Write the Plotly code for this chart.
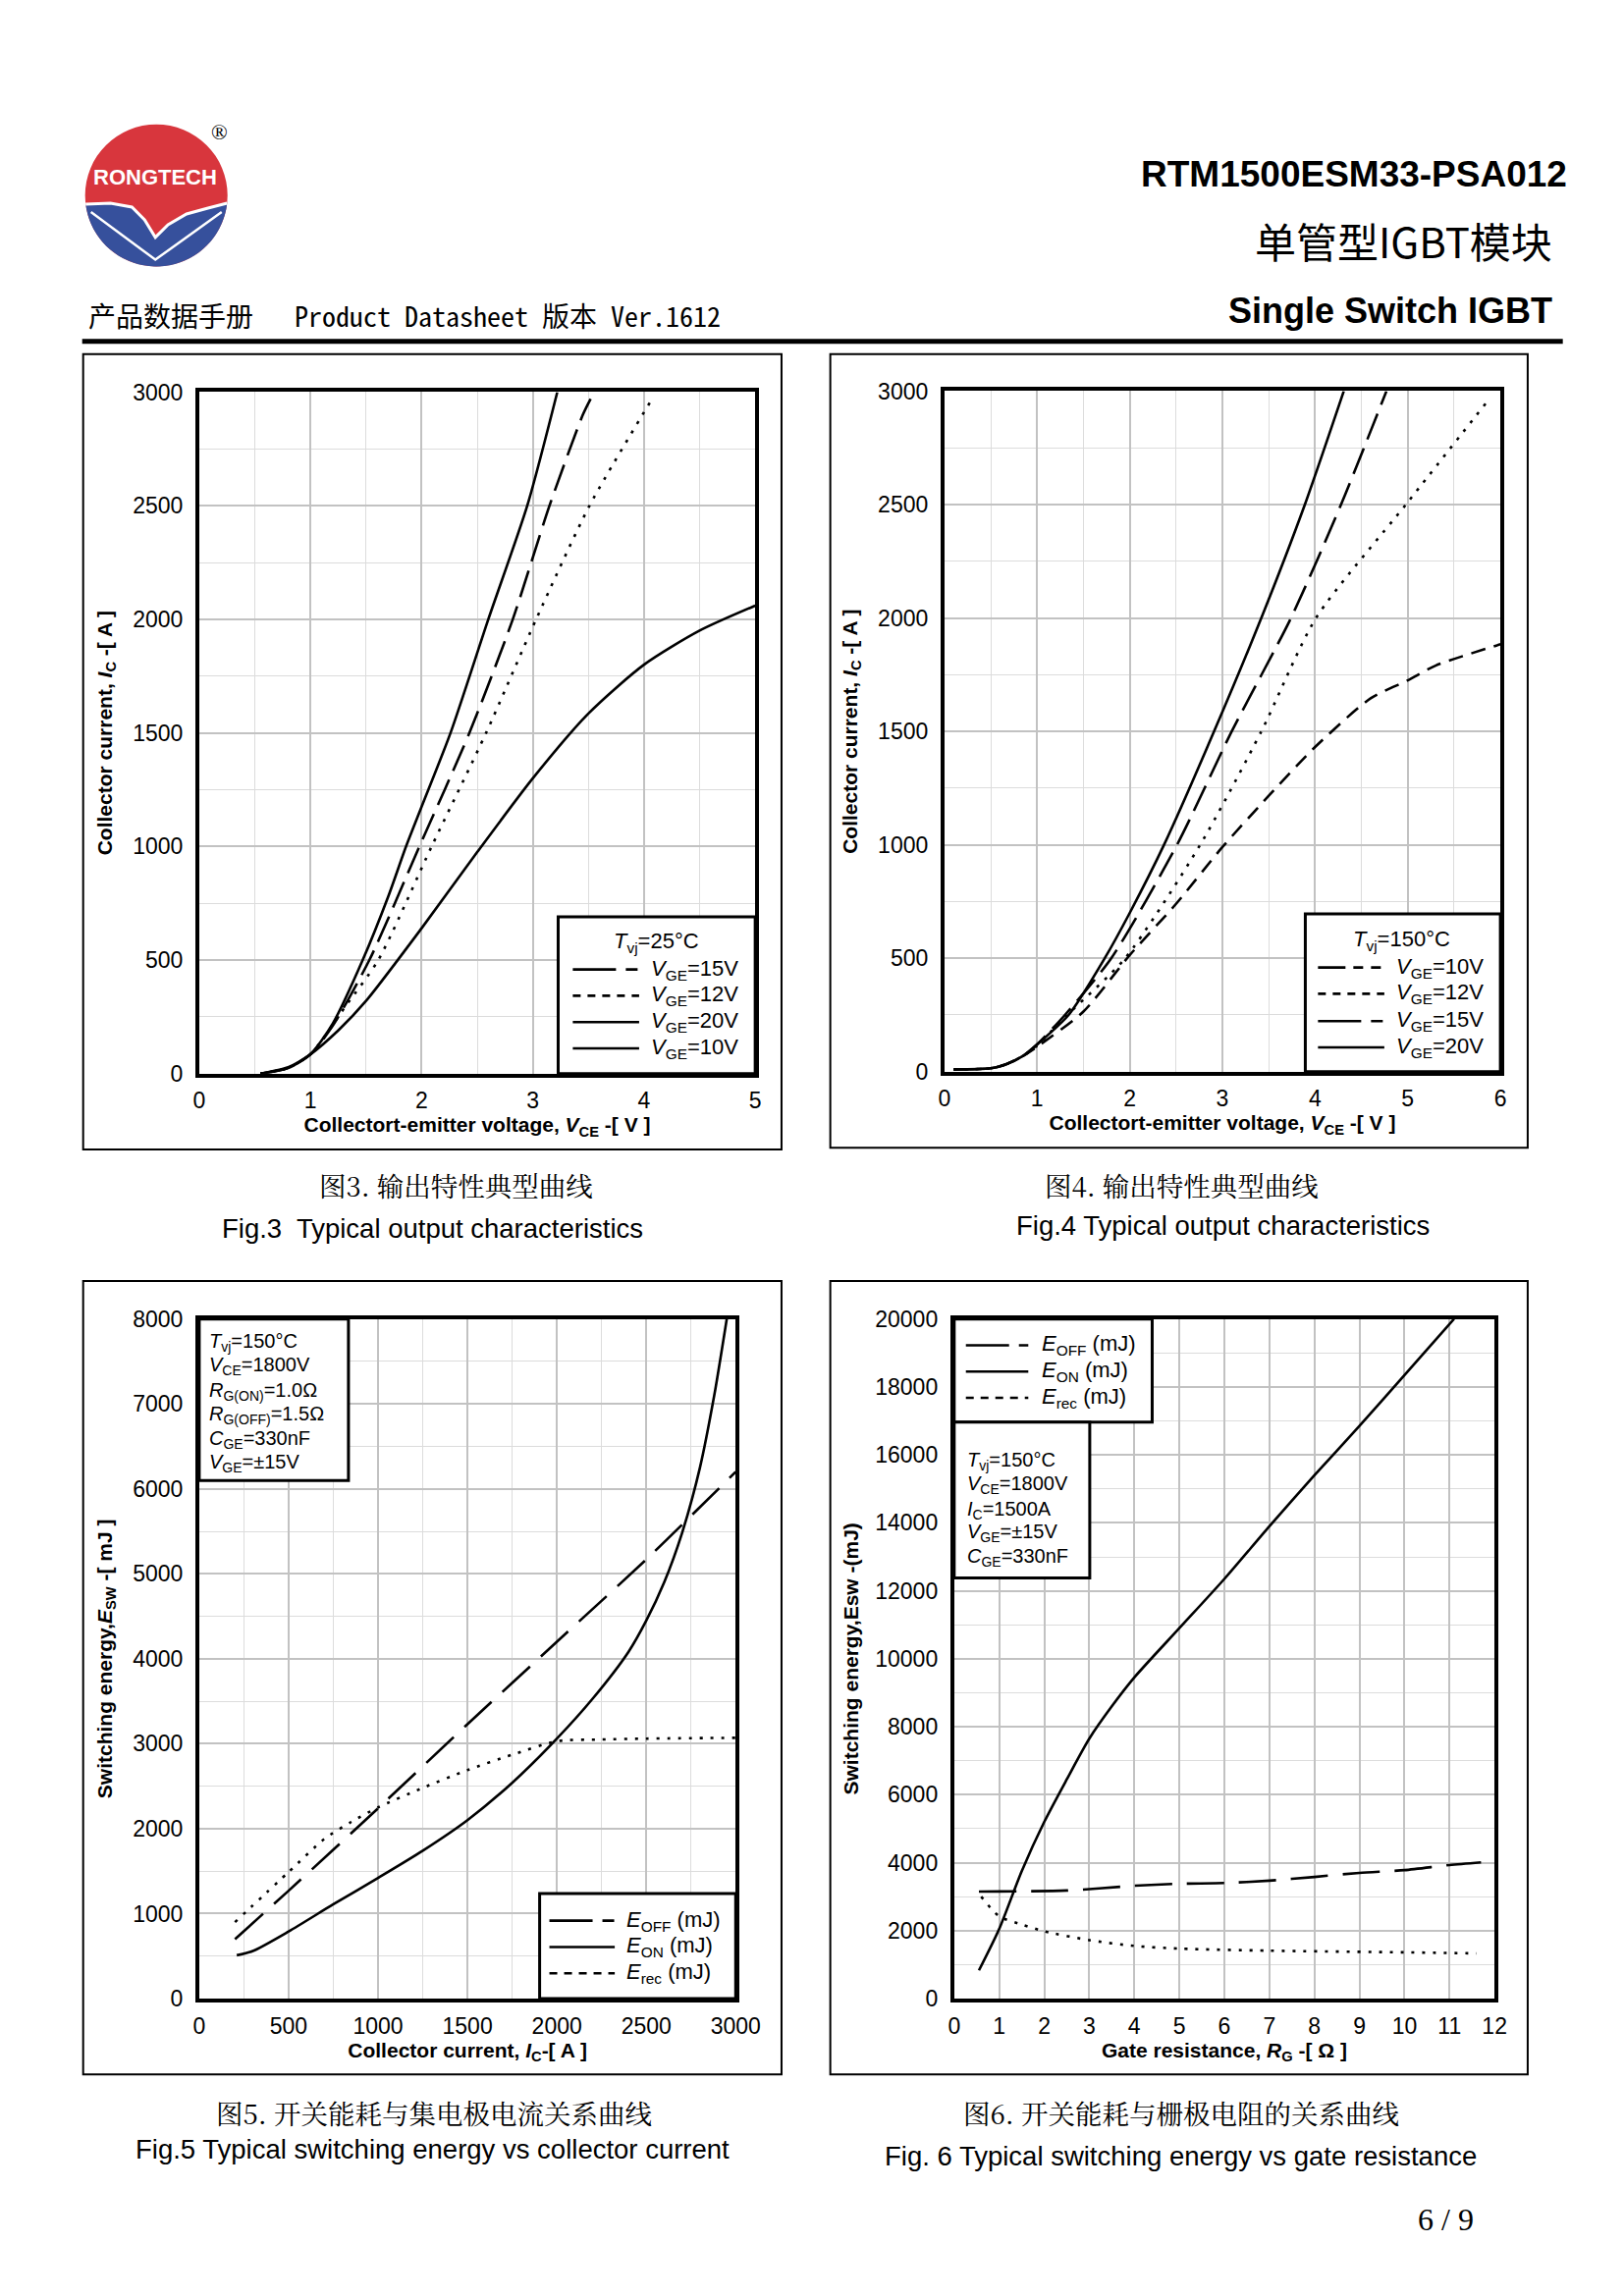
import numpy as np
import plotly.graph_objects as go

W, H = 1654, 2339

# ---------------- data ----------------
# Fig.3  Tvj = 25 C
f3_vge15_x = [0.55, 0.8, 1.0, 1.2, 1.53, 1.98, 2.43, 2.82, 3.15, 3.45, 3.52]
f3_vge15_y = [0, 25, 85, 210, 500, 1000, 1500, 2000, 2500, 2900, 2970]
f3_vge12_x = [0.55, 0.8, 1.0, 1.32, 1.61, 2.09, 2.58, 3.03, 3.51, 4.06]
f3_vge12_y = [0, 25, 85, 300, 500, 1000, 1500, 2000, 2500, 2960]
f3_vge20_x = [0.55, 0.8, 1.0, 1.2, 1.47, 1.7, 1.86, 2.0, 2.26, 2.6, 2.95, 3.22]
f3_vge20_y = [0, 25, 85, 220, 500, 780, 1000, 1175, 1500, 2000, 2500, 3000]
f3_vge10_x = [0.55, 0.8, 1.0, 1.25, 1.5, 2.0, 2.5, 3.0, 3.5, 4.0, 4.5, 5.0]
f3_vge10_y = [0, 28, 85, 190, 320, 640, 975, 1300, 1585, 1800, 1950, 2060]

# Fig.4  Tvj = 150 C
f4_vge10_x = [0.1, 0.5, 0.65, 0.85, 1.0, 1.5, 2.0, 2.5, 3.0, 3.5, 4.0, 4.6, 5.0, 5.3, 6.0]
f4_vge10_y = [10, 15, 30, 70, 110, 265, 514, 740, 990, 1216, 1431, 1646, 1725, 1790, 1884]
f4_vge12_x = [0.1, 0.5, 0.65, 0.85, 1.0, 1.3, 1.95, 2.76, 3.42, 4.01, 4.98, 5.85]
f4_vge12_y = [10, 15, 30, 70, 115, 240, 500, 1000, 1500, 2000, 2500, 2950]
f4_vge15_x = [0.1, 0.5, 0.65, 0.85, 1.0, 1.3, 1.8, 2.51, 3.10, 3.74, 4.28, 4.77]
f4_vge15_y = [10, 15, 30, 70, 120, 250, 500, 1000, 1500, 2000, 2500, 3000]
f4_vge20_x = [0.1, 0.5, 0.65, 0.85, 1.0, 1.34, 1.73, 2.0, 2.37, 2.91, 3.42, 3.89, 4.31]
f4_vge20_y = [10, 15, 30, 70, 120, 250, 500, 700, 1000, 1500, 2000, 2500, 3000]

# Fig.5  switching energy vs collector current
f5_eoff_x = [200, 500, 1000, 1500, 2000, 2500, 3000]
f5_eoff_y = [700, 1270, 2240, 3230, 4200, 5170, 6200]
f5_eon_x = [210, 300, 500, 750, 1000, 1250, 1500, 1750, 2000, 2200, 2400, 2500, 2600, 2700, 2800, 2880, 2950]
f5_eon_y = [510, 560, 790, 1110, 1420, 1740, 2100, 2540, 3060, 3530, 4080, 4450, 4900, 5480, 6250, 7100, 8000]
f5_erec_x = [200, 500, 700, 850, 1000, 1250, 1500, 1750, 2000, 2250, 2500, 3000]
f5_erec_y = [900, 1490, 1880, 2080, 2250, 2480, 2690, 2870, 3030, 3050, 3060, 3070]

# Fig.6  switching energy vs gate resistance
f6_eoff_x = [0.55, 2.5, 4, 5, 6, 7, 8, 9, 10, 11, 11.7]
f6_eoff_y = [3150, 3180, 3320, 3380, 3400, 3470, 3580, 3700, 3780, 3930, 4010]
f6_eon_x = [0.55, 1.0, 1.5, 2.0, 2.5, 3.0, 3.5, 4.0, 5.0, 6.0, 7.0, 8.0, 9.0, 10.0, 11.1]
f6_eon_y = [830, 2050, 3750, 5200, 6450, 7650, 8600, 9450, 10900, 12350, 13900, 15400, 16850, 18350, 20000]
f6_erec_x = [0.6, 1.0, 1.5, 2.0, 3.0, 4.0, 5.0, 7.0, 10.0, 11.6]
f6_erec_y = [3000, 2420, 2180, 1980, 1720, 1550, 1470, 1410, 1360, 1330]

# legend / condition texts
vge = lambda v: f"<i>V</i><sub>GE</sub>={v}V"
E = lambda s: f"<i>E</i><sub>{s}</sub> (mJ)"
f3_names = [vge(15), vge(12), vge(20), vge(10)]
f4_names = [vge(10), vge(12), vge(15), vge(20)]
f56_names = [E("OFF"), E("ON"), E("rec")]
f5_cond = ["<i>T</i><sub>vj</sub>=150°C", "<i>V</i><sub>CE</sub>=1800V", "<i>R</i><sub>G(ON)</sub>=1.0Ω",
           "<i>R</i><sub>G(OFF)</sub>=1.5Ω", "<i>C</i><sub>GE</sub>=330nF", "<i>V</i><sub>GE</sub>=±15V"]
f6_cond = ["<i>T</i><sub>vj</sub>=150°C", "<i>V</i><sub>CE</sub>=1800V", "<i>I</i><sub>C</sub>=1500A",
           "<i>V</i><sub>GE</sub>=±15V", "<i>C</i><sub>GE</sub>=330nF"]


# ---------------- helpers ----------------
def X(px):
    return (1.013 * px - 13) / W


def Y(py):
    return 1 - (1.003 * py - 19.5) / H


FONT = "Liberation Sans, Arial, sans-serif"
LW = 2.6

DOT = "3px,8px"
LONG = "28px,10px"
MED = "15px,9px"
ELONG = "38px,15px"

# legend-key patterns
K_LS = "44px,10px,12px,10px"
K_SH = "8px,7px"
K_LSS = "28px,8px,10px,8px,10px,8px"


def tr(x, y, name, dash, xa, ya):
    return go.Scatter(x=x, y=y, mode="lines", name=name, showlegend=False,
                      line=dict(color="black", width=LW, dash=dash, shape="spline", smoothing=0.7),
                      xaxis=xa, yaxis=ya, hoverinfo="skip")


fig = go.Figure()
# Fig 3
fig.add_trace(tr(f3_vge15_x, f3_vge15_y, f3_names[0], LONG, "x", "y"))
fig.add_trace(tr(f3_vge12_x, f3_vge12_y, f3_names[1], DOT, "x", "y"))
fig.add_trace(tr(f3_vge20_x, f3_vge20_y, f3_names[2], "solid", "x", "y"))
fig.add_trace(tr(f3_vge10_x, f3_vge10_y, f3_names[3], "solid", "x", "y"))
# Fig 4
fig.add_trace(tr(f4_vge10_x, f4_vge10_y, f4_names[0], MED, "x2", "y2"))
fig.add_trace(tr(f4_vge12_x, f4_vge12_y, f4_names[1], DOT, "x2", "y2"))
fig.add_trace(tr(f4_vge15_x, f4_vge15_y, f4_names[2], LONG, "x2", "y2"))
fig.add_trace(tr(f4_vge20_x, f4_vge20_y, f4_names[3], "solid", "x2", "y2"))
# Fig 5
fig.add_trace(tr(f5_eoff_x, f5_eoff_y, f56_names[0], ELONG, "x3", "y3"))
fig.add_trace(tr(f5_eon_x, f5_eon_y, f56_names[1], "solid", "x3", "y3"))
fig.add_trace(tr(f5_erec_x, f5_erec_y, f56_names[2], DOT, "x3", "y3"))
# Fig 6
fig.add_trace(tr(f6_eoff_x, f6_eoff_y, f56_names[0], ELONG, "x4", "y4"))
fig.add_trace(tr(f6_eon_x, f6_eon_y, f56_names[1], "solid", "x4", "y4"))
fig.add_trace(tr(f6_erec_x, f6_erec_y, f56_names[2], DOT, "x4", "y4"))


def axis(dom, rng, dtick, minor, anchor, title, standoff, tls):
    d = dict(domain=dom, range=rng, dtick=dtick, tick0=0, anchor=anchor,
             showgrid=True, gridcolor="#c2c2c2", gridwidth=2,
             showline=True, mirror=True, linecolor="black", linewidth=4,
             ticks="", zeroline=False, ticklabelstandoff=tls, tickformat="d",
             tickfont=dict(family=FONT, size=23, color="black"),
             title=dict(text=title, standoff=standoff,
                        font=dict(family=FONT, size=21, color="black")))
    if minor:
        d["minor"] = dict(dtick=minor, tick0=0, showgrid=True, gridcolor="#dcdcdc", gridwidth=1)
    return d


# plot areas (px)
P3 = (203, 773, 401, 1101)
P4 = (967, 1537, 400, 1099)
P5 = (203, 753, 1353, 2051)
P6 = (977, 1531, 1353, 2051)

xd = lambda p: [X(p[0]), X(p[1])]
yd = lambda p: [Y(p[3]), Y(p[2])]

xt_vce = "<b>Collectort-emitter voltage, <i>V</i><sub>CE</sub> -[ V ]</b>"
yt_ic = "<b>Collector current, <i>I</i><sub>C</sub> -[ A ]</b>"

fig.update_layout(
    width=W, height=H, autosize=False, showlegend=False,
    margin=dict(l=0, r=0, t=0, b=0),
    paper_bgcolor="white", plot_bgcolor="white",
    font=dict(family=FONT, color="black"),
    xaxis=axis(xd(P3), [0, 5], 1, 0.5, "y", xt_vce, 4, 4),
    yaxis=axis(yd(P3), [0, 3000], 500, 250, "x", yt_ic, 16, 8),
    xaxis2=axis(xd(P4), [0, 6], 1, 0.5, "y2", xt_vce, 4, 4),
    yaxis2=axis(yd(P4), [0, 3000], 500, 250, "x2", yt_ic, 16, 8),
    xaxis3=axis(xd(P5), [0, 3000], 500, 250, "y3",
                "<b>Collector current, <i>I</i><sub>C</sub>-[ A ]</b>", 4, 4),
    yaxis3=axis(yd(P5), [0, 8000], 1000, 500, "x3",
                "<b>Switching energy,<i>E</i><sub>SW</sub> -[ mJ ]</b>", 16, 8),
    xaxis4=axis(xd(P6), [0, 12], 1, None, "y4",
                "<b>Gate resistance, <i>R</i><sub>G</sub> -[ Ω ]</b>", 4, 4),
    yaxis4=axis(yd(P6), [0, 20000], 2000, 1000, "x4",
                "<b>Switching energy,Esw -(mJ)</b>", 12, 8),
)

shapes = []
ann = []


def rect(x0, y0, x1, y1, w=2, fill=None, above=False):
    d = dict(type="rect", xref="paper", yref="paper", x0=X(x0), x1=X(x1), y0=Y(y1), y1=Y(y0),
             line=dict(color="black", width=w))
    if fill:
        d["fillcolor"] = fill
    if above:
        d["layer"] = "above"
    shapes.append(d)


def text(x, y, t, size=21, xa="left", ya="middle", family=FONT, color="black"):
    ann.append(dict(xref="paper", yref="paper", x=X(x), y=Y(y), xanchor=xa, yanchor=ya,
                    showarrow=False, text=t, font=dict(family=family, size=size, color=color)))


def key(box, title, title_xy, rows, sx, tx, names, dashes):
    rect(*box, w=3, fill="white", above=True)
    if title:
        text(title_xy[0], title_xy[1], title, size=22, xa="center")
    for yy, nm, ds in zip(rows, names, dashes):
        shapes.append(dict(type="line", xref="paper", yref="paper", layer="above",
                           x0=X(sx[0]), x1=X(sx[1]), y0=Y(yy), y1=Y(yy),
                           line=dict(color="black", width=LW, dash=ds)))
        text(tx, yy, nm, size=22)


# figure frames
for b in [(84, 362, 800, 1179), (850, 362, 1565, 1177), (84, 1314, 800, 2129), (850, 1314, 1565, 2129)]:
    rect(*b, w=2)

# header rule
shapes.append(dict(type="line", xref="paper", yref="paper", x0=X(83), x1=X(1601),
                   y0=Y(349), y1=Y(349), line=dict(color="black", width=5)))

# legends (drawn keys)
key((571, 940, 773, 1101), "<i>T</i><sub>vj</sub>=25°C", (672, 966), [994, 1021, 1048, 1075],
    (586, 654), 664, f3_names, [K_LS, K_SH, "solid", "solid"])
key((1337, 937, 1537, 1099), "<i>T</i><sub>vj</sub>=150°C", (1436, 964), [992, 1019, 1047, 1074],
    (1350, 1418), 1428, f4_names, [K_LSS, K_SH, K_LS, "solid"])
key((552, 1943, 753, 2051), None, None, [1971, 1998, 2025],
    (562, 629), 639, f56_names, [K_LS, "solid", K_SH])
key((977, 1353, 1180, 1459), None, None, [1380, 1407, 1434],
    (989, 1053), 1065, f56_names, [K_LS, "solid", K_SH])

# condition boxes
rect(203, 1353, 356, 1519, w=3, fill="white", above=True)
for yy, t in zip([1377, 1401, 1427, 1452, 1477, 1501], f5_cond):
    text(211, yy, t, size=20)
rect(977, 1459, 1116, 1619, w=3, fill="white", above=True)
for yy, t in zip([1499, 1523, 1549, 1573, 1598], f6_cond):
    text(988, yy, t, size=20)

# captions
CJK_SERIF = "Noto Serif CJK SC, Noto Sans CJK SC, serif"
caps = [
    (466, 1215, "图3. 输出特性典型曲线", CJK_SERIF),
    (442, 1260, "Fig.3\u00a0 Typical output characteristics", FONT),
    (1210, 1215, "图4. 输出特性典型曲线", CJK_SERIF),
    (1253, 1257, "Fig.4 Typical output characteristics", FONT),
    (444, 2168, "图5. 开关能耗与集电极电流关系曲线", CJK_SERIF),
    (442, 2206, "Fig.5 Typical switching energy vs collector current", FONT),
    (1210, 2168, "图6. 开关能耗与栅极电阻的关系曲线", CJK_SERIF),
    (1209, 2213, "Fig. 6 Typical switching energy vs gate resistance", FONT),
]
for (cx_, cy_, t, f) in caps:
    text(cx_, cy_, t, size=27.5, xa="center", family=f)

# header texts
text(1607, 177, "<b>RTM1500ESM33-PSA012</b>", size=37, xa="right")
text(1592, 245, "单管型IGBT模块", size=42, xa="right", family="Noto Sans CJK SC, Liberation Sans")
text(1592, 317, "<b>Single Switch IGBT</b>", size=36, xa="right")
text(87, 322, "产品数据手册\u00a0\u00a0\u00a0Product Datasheet 版本 Ver.1612", size=28,
     family="Noto Sans Mono CJK SC, Noto Sans CJK SC, Liberation Mono")
text(1481, 2278, "6 / 9", size=32, xa="center", family="Liberation Serif, DejaVu Serif, serif")

# logo
cx, cy, r = 159, 199, 73
RED, BLUE = "#d8363d", "#36509c"
shapes.append(dict(type="circle", xref="paper", yref="paper", x0=X(cx - r), x1=X(cx + r),
                   y0=Y(cy + r), y1=Y(cy - r), fillcolor=RED, line=dict(width=0)))
bnd = [(86.5, 208), (112, 207), (134, 211), (147, 224), (158, 242), (171, 229),
       (190, 218), (212, 212), (231.5, 207)]
arc = [(cx + r * np.cos(t), cy + r * np.sin(t)) for t in np.linspace(0.11, np.pi - 0.12, 40)]
pts = bnd + arc
path = "M " + " L ".join(f"{X(a):.5f},{Y(b):.5f}" for a, b in pts) + " Z"
shapes.append(dict(type="path", xref="paper", yref="paper", path=path, fillcolor=BLUE,
                   line=dict(width=0)))
path_b = "M " + " L ".join(f"{X(a):.5f},{Y(b):.5f}" for a, b in bnd)
shapes.append(dict(type="path", xref="paper", yref="paper", path=path_b,
                   line=dict(color="white", width=3)))
vline = [(92, 216), (158, 265), (226, 216)]
path_v = "M " + " L ".join(f"{X(a):.5f},{Y(b):.5f}" for a, b in vline)
shapes.append(dict(type="path", xref="paper", yref="paper", path=path_v,
                   line=dict(color="white", width=2.5)))
text(158, 180, "<b>RONGTECH</b>", size=22, xa="center", color="white")
text(224, 134, "®", size=22, xa="center", family="Liberation Serif, DejaVu Serif")

fig.update_layout(shapes=shapes, annotations=ann)
fig.write_html("out.html")
